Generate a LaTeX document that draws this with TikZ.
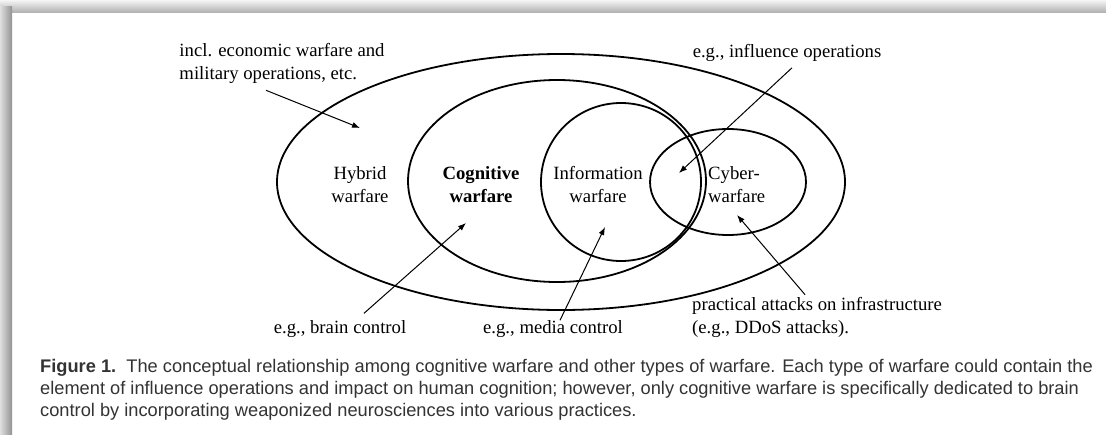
\documentclass[tikz,border=0pt]{standalone}
\usepackage{fontspec}
\setmainfont{Liberation Serif}
\newfontfamily\capfont{Liberation Sans}
\usepackage{tikz}
\usetikzlibrary{arrows.meta}

\definecolor{capgray}{HTML}{333333}

\tikzset{
  lbl/.style={inner sep=0pt, font=\fontsize{18.7}{23}\selectfont},
  ring/.style={line width=1.8pt},
  pointer/.style={-{Latex[length=8pt,width=6pt]}, line width=1pt}
}

\begin{document}
\begin{tikzpicture}[x=1pt,y=-1pt]

\useasboundingbox (0,0) rectangle (1106,434);

\fill[white] (0,0) rectangle (1106,434);

\shade[top color=gray!8, bottom color=gray!60] (0,0) rectangle (1106,12);

\shade[left color=gray!25, right color=gray!85] (0,6) rectangle (12,434);

\draw[ring] (561,182) ellipse [x radius=284, y radius=128];

\draw[ring] (557,181) ellipse [x radius=149, y radius=101];

\draw[ring] (621,182) ellipse [x radius=80, y radius=79];

\draw[ring] (728,182) ellipse [x radius=78, y radius=53];

\node[lbl, align=left] (incl) at (282,63) {incl. economic warfare and\\military operations, etc.};

\node[lbl, align=center] (hybrid) at (360,185) {Hybrid\\warfare};

\node[lbl, align=center, font=\fontsize{18.7}{23}\selectfont\bfseries] (cognitive) at (481,185) {Cognitive\\warfare};

\node[lbl, align=center] (information) at (598,185) {Information\\warfare};

\node[lbl, align=left, anchor=west] (cyber) at (708,185) {Cyber-\\warfare};

\node[lbl] (influence) at (787,53) {e.g., influence operations};

\node[lbl] (brain) at (340,329) {e.g., brain control};

\node[lbl] (media) at (553,329) {e.g., media control};

\node[lbl, align=left, anchor=west] (practical) at (692,317) {practical attacks on infrastructure\\(e.g., DDoS attacks).};

\coordinate (hybridtip) at (360,128);
\coordinate (overlaptip) at (679,173);
\coordinate (cognitivetip) at (466,223);
\coordinate (informationtip) at (605,227);
\coordinate (cybertip) at (737,215);

\draw[pointer] ([xshift=-16pt,yshift=-7pt]incl.south) -- (hybridtip);

\draw[pointer] ([xshift=5pt,yshift=-6pt]influence.south) -- (overlaptip);

\draw[pointer] ([xshift=24pt,yshift=7pt]brain.north) -- (cognitivetip);

\draw[pointer] ([xshift=7pt]media.north) -- (informationtip);

\draw[pointer] ([xshift=-12pt,yshift=2pt]practical.north) -- (cybertip);

\node[inner sep=0pt, align=left, anchor=west, text=capgray,
  font=\capfont\fontsize{18.25}{22}\selectfont] (caption) at (40,390)
  {\textbf{Figure 1.}\ \ The conceptual relationship among cognitive warfare and other types of warfare. Each type of warfare could contain the\\
  element of influence operations and impact on human cognition; however, only cognitive warfare is specifically dedicated to brain\\
  control by incorporating weaponized neurosciences into various practices.};

\end{tikzpicture}
\end{document}
